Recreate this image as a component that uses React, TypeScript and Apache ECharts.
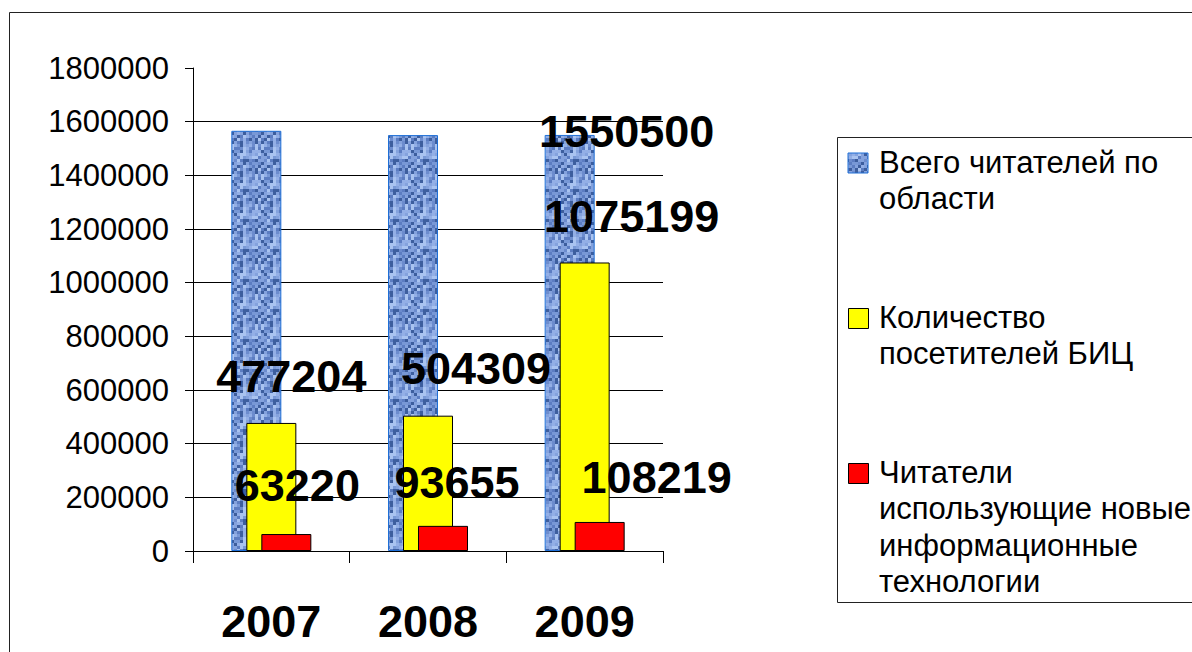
import React, { useEffect, useRef } from "react";
import * as echarts from "echarts";

const years = ["2007", "2008", "2009"];
const totalReaders = [1566000, 1550000, 1550500];
const bicVisitors = [477204, 504309, 1075199];
const itReaders = [63220, 93655, 108219];
const seriesNames = [
  "Всего читателей по области",
  "Количество посетителей БИЦ",
  "Читатели использующие новые информационные технологии",
];
const legendLines = [
  "Всего читателей по\nобласти",
  "Количество\nпосетителей БИЦ",
  "Читатели\nиспользующие новые\nинформационные\nтехнологии",
];

const FONT = "Arial, 'Liberation Sans', sans-serif";

function makeTexture(): HTMLCanvasElement {
  const c = document.createElement("canvas");
  c.width = 30;
  c.height = 30;
  const ctx = c.getContext("2d")!;
  const palette = ["#3d5e9e", "#5c7dc2", "#7898d6", "#a9c3f0", "#6c8cce", "#93afe6", "#84a2dd"];
  for (let y = 0; y < 10; y++) {
    for (let x = 0; x < 10; x++) {
      let h = Math.imul(x + 11, 374761393) + Math.imul(y + 7, 668265263);
      h = Math.imul(h ^ (h >>> 13), 1274126177);
      h = (h ^ (h >>> 16)) >>> 0;
      ctx.fillStyle = palette[h % palette.length];
      ctx.fillRect(x * 3, y * 3, 3, 3);
    }
  }
  return c;
}

export default function App() {
  const ref = useRef<HTMLDivElement>(null);
  useEffect(() => {
    document.body.style.margin = "0";
    document.body.style.overflow = "hidden";
    if (!ref.current) return;
    const chart = echarts.init(ref.current, undefined, { renderer: "svg" });
    const tex = makeTexture();
    const bluePattern: any = { image: tex, repeat: "repeat" };

    const labelBase = {
      position: "top",
      distance: 0,
      color: "#000",
      fontSize: 45,
      fontWeight: "bold",
      fontFamily: FONT,
    };
    const blueOffsets = [[0, 0], [0, 0], [57, 19]];
    const yellowOffsets = [[20, -24], [48, -25], [47, -23]];
    const redOffsets = [[11, -26], [14, -21], [57, -22]];

    const option: any = {
      animation: false,
      backgroundColor: "#fff",
      grid: { left: 193, right: 529, top: 68, bottom: 101, containLabel: false },
      xAxis: {
        type: "category",
        data: years,
        boundaryGap: true,
        axisLine: { show: true, lineStyle: { color: "#000", width: 1 } },
        axisTick: { show: true, length: 12, interval: 0, lineStyle: { color: "#000" } },
        axisLabel: {
          color: "#000",
          fontSize: 45,
          fontWeight: "bold",
          fontFamily: FONT,
          margin: 48,
        },
      },
      yAxis: {
        type: "value",
        min: 0,
        max: 1800000,
        interval: 200000,
        axisLine: { show: true, lineStyle: { color: "#000", width: 1 } },
        axisTick: { show: true, length: 8, lineStyle: { color: "#000" } },
        axisLabel: {
          color: "#000",
          fontSize: 31,
          fontFamily: FONT,
          margin: 24,
          formatter: (v: number) => String(v),
        },
        splitLine: { show: true, showMaxLine: false, lineStyle: { color: "#000", width: 1 } },
      },
      series: [
        {
          name: seriesNames[0],
          type: "bar",
          barWidth: 50,
          barGap: "-70%",
          itemStyle: { color: bluePattern, borderColor: "#1f6fd6", borderWidth: 1 },
          data: totalReaders.map((v, i) => ({
            value: v,
            label: { ...labelBase, show: i === 2, offset: blueOffsets[i] },
          })),
        },
        {
          name: seriesNames[1],
          type: "bar",
          barWidth: 50,
          barGap: "-70%",
          itemStyle: { color: "#ffff00", borderColor: "#000", borderWidth: 1 },
          data: bicVisitors.map((v, i) => ({
            value: v,
            label: { ...labelBase, show: true, offset: yellowOffsets[i] },
          })),
        },
        {
          name: seriesNames[2],
          type: "bar",
          barWidth: 50,
          barGap: "-70%",
          itemStyle: { color: "#ff0000", borderColor: "#000", borderWidth: 1 },
          data: itReaders.map((v, i) => ({
            value: v,
            label: { ...labelBase, show: true, offset: redOffsets[i] },
          })),
        },
      ],
      graphic: [
        {
          type: "rect",
          silent: true,
          shape: { x: 9.5, y: 12.5, width: 1300, height: 800 },
          style: { fill: "none", stroke: "#222", lineWidth: 1 },
        },
        {
          type: "rect",
          silent: true,
          shape: { x: 837.5, y: 137.5, width: 400, height: 465 },
          style: { fill: "#fff", stroke: "#222", lineWidth: 1 },
        },
        {
          type: "rect",
          shape: { x: 848, y: 153, width: 20, height: 20 },
          style: { fill: bluePattern, stroke: "#1f6fd6", lineWidth: 1 },
        },
        {
          type: "rect",
          shape: { x: 848.5, y: 308.5, width: 20, height: 20 },
          style: { fill: "#ffff00", stroke: "#000", lineWidth: 1 },
        },
        {
          type: "rect",
          shape: { x: 848.5, y: 463.5, width: 20, height: 20 },
          style: { fill: "#ff0000", stroke: "#000", lineWidth: 1 },
        },
        ...legendLines.map((t, i) => ({
          type: "text",
          x: 879,
          y: [162, 317, 472][i] - 18.25,
          style: {
            text: t,
            fill: "#000",
            fontSize: 31,
            fontFamily: FONT,
            lineHeight: 36.5,
            align: "left",
            verticalAlign: "top",
          },
        })),
      ],
    };
    chart.setOption(option);
    return () => chart.dispose();
  }, []);
  return <div ref={ref} style={{ width: 1192, height: 652 }} />;
}
